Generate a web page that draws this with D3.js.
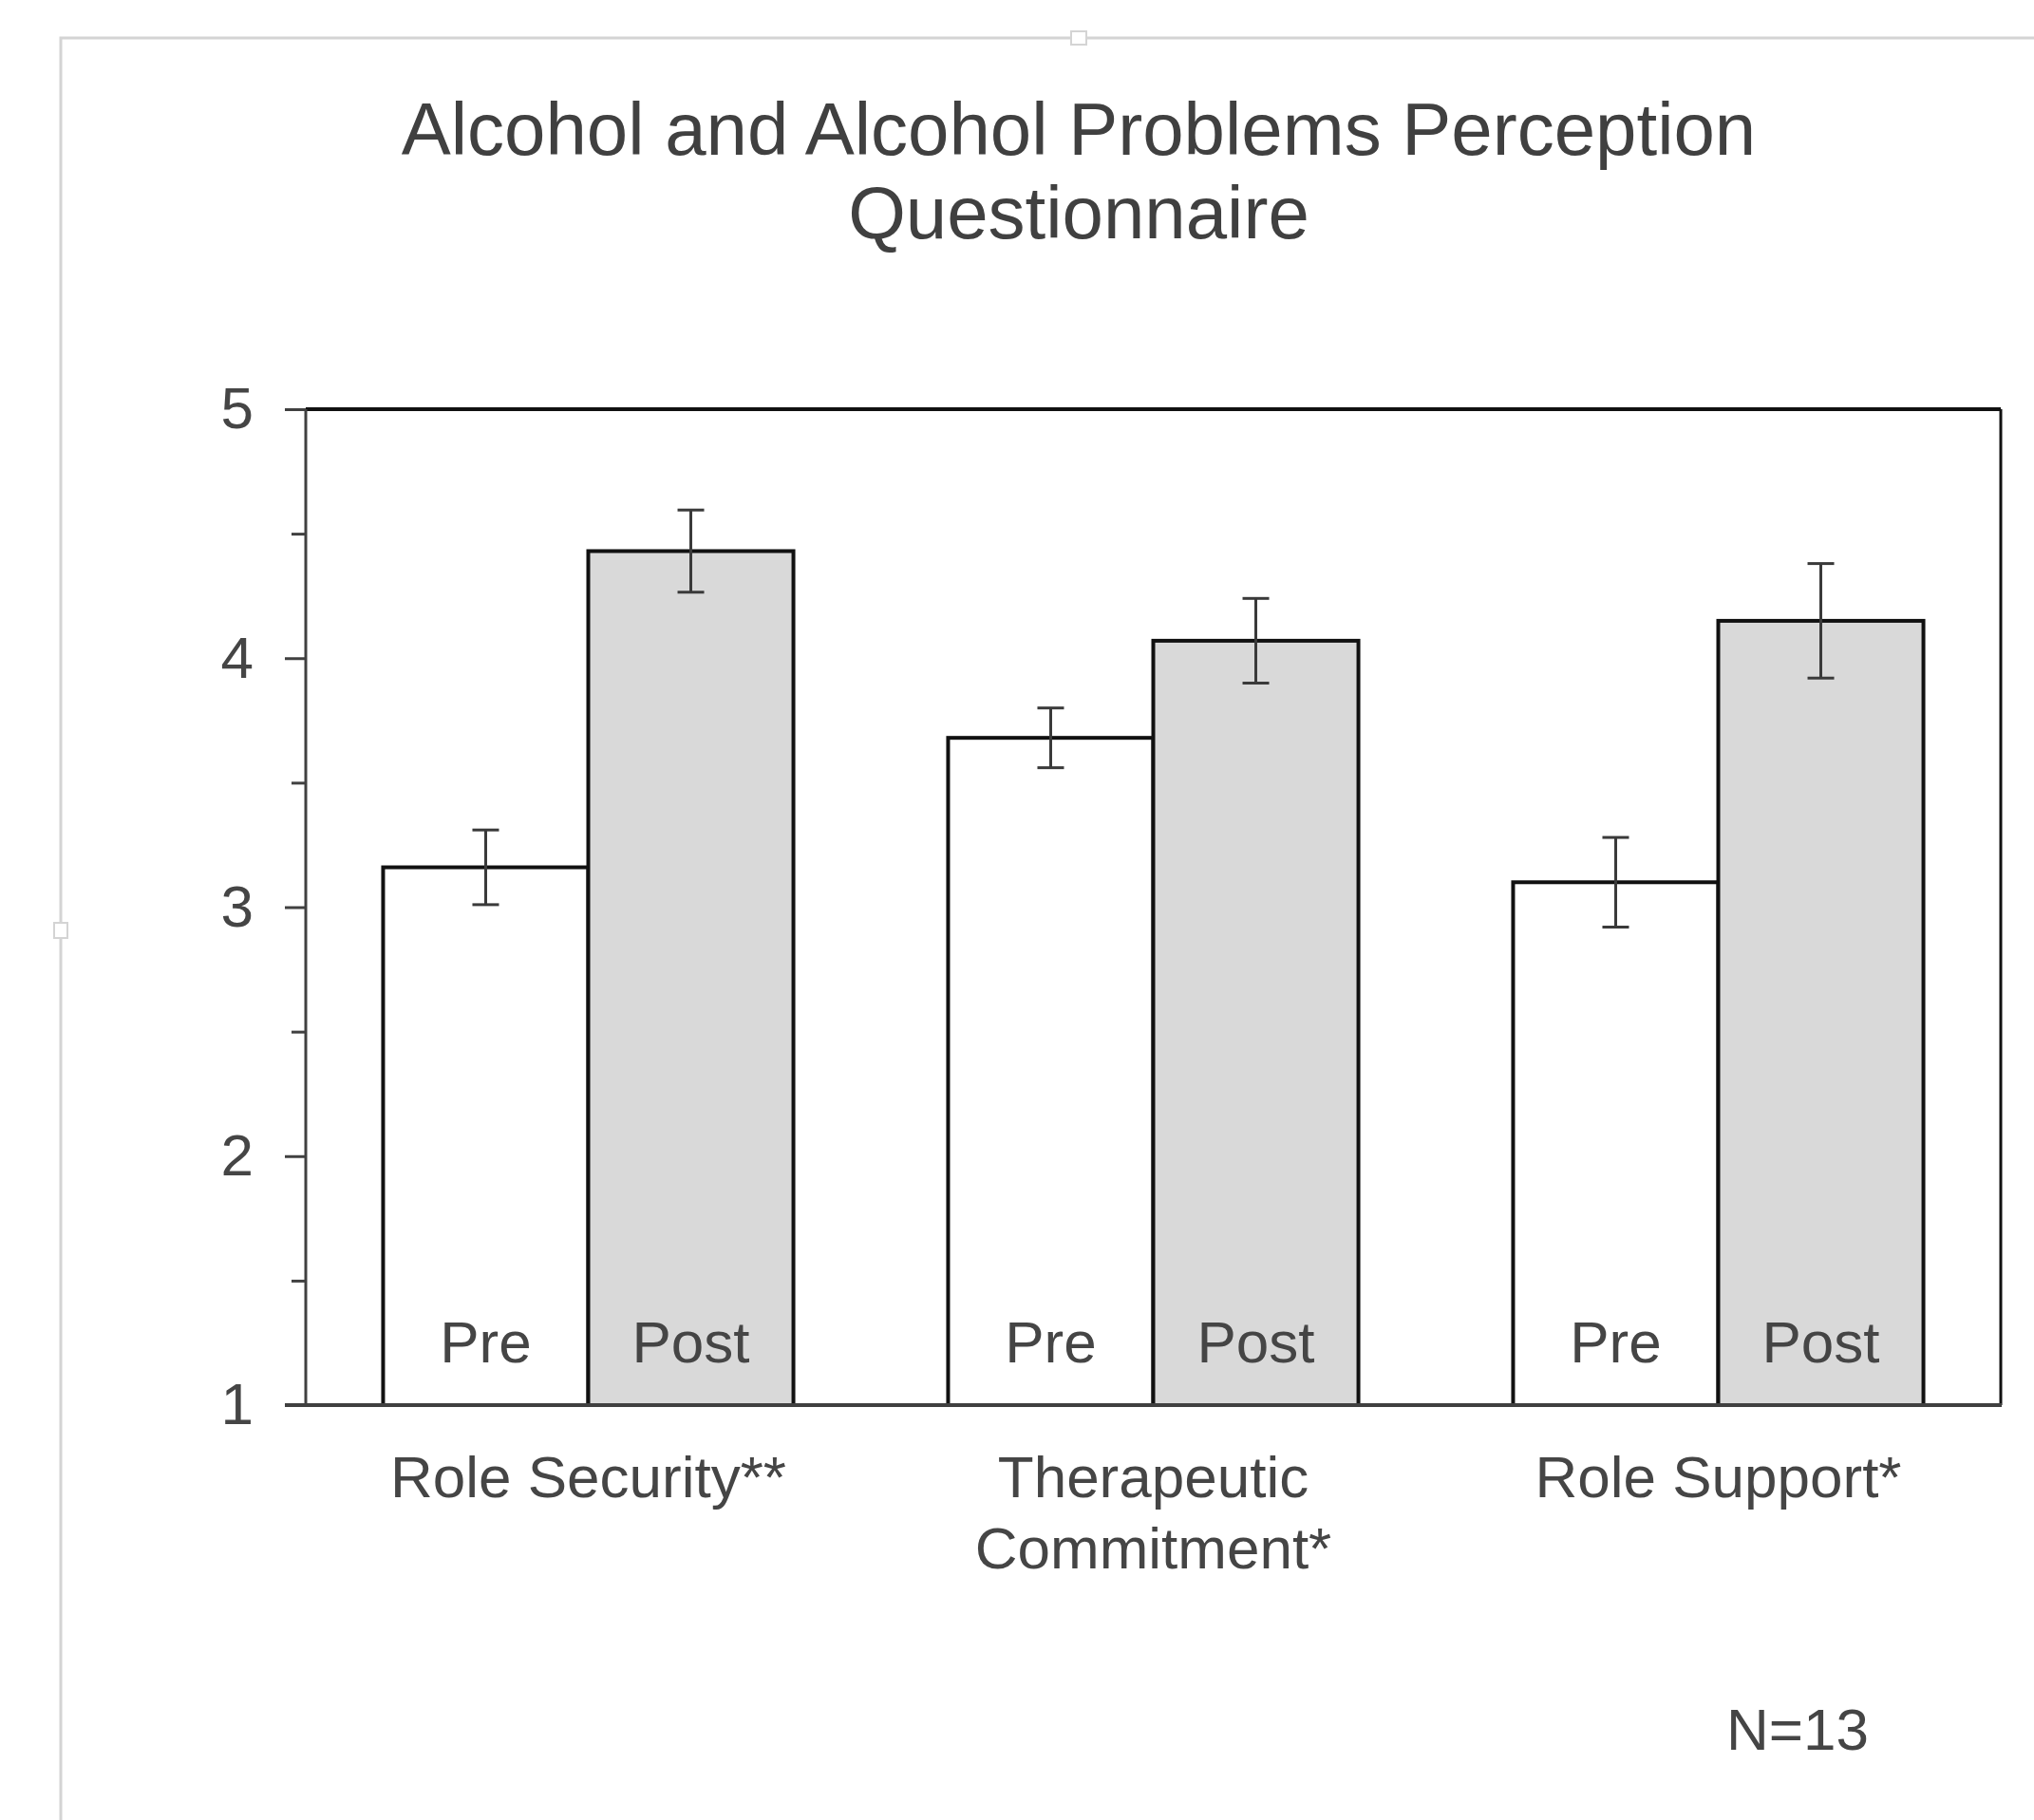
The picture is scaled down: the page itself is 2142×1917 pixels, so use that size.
<!DOCTYPE html>
<html>
<head>
<meta charset="utf-8">
<script src="https://cdn.jsdelivr.net/npm/d3@7"></script>
<style>
  html, body { margin: 0; padding: 0; background: #ffffff; }
  svg { display: block; }
  text { font-family: "Liberation Sans", Arial, sans-serif; }
</style>
</head>
<body>
<script>
// ---- data ----
const categories = ["Role Security**", "Therapeutic Commitment*", "Role Support*"];
const categoryLabelLines = [["Role Security**"], ["Therapeutic", "Commitment*"], ["Role Support*"]];
const phases = ["Pre", "Post"];
const preValues = [3.16, 3.68, 3.10];
const postValues = [4.43, 4.07, 4.15];
const preErrors = [0.15, 0.12, 0.18];
const postErrors = [0.165, 0.17, 0.23];
const yMajorTicks = [1, 2, 3, 4, 5];
const yMinorTicks = [1.5, 2.5, 3.5, 4.5];
const titleLines = ["Alcohol and Alcohol Problems Perception", "Questionnaire"];
const noteText = "N=13";

// ---- layout ----
const W = 2142, H = 1917;
const plot = { left: 322, right: 2107, top: 431, bottom: 1480 };
const textColor = "#454545";
const axisColor = "#404040";

const svg = d3.select("body").append("svg").attr("width", W).attr("height", H);
svg.append("rect").attr("width", W).attr("height", H).attr("fill", "#ffffff");

// chart area border (selected chart frame)
svg.append("rect").attr("x", 64).attr("y", 40).attr("width", W).attr("height", H)
  .attr("fill", "none").attr("stroke", "#d4d4d4").attr("stroke-width", 3);
// handles
svg.append("rect").attr("x", 1128).attr("y", 33).attr("width", 16).attr("height", 14)
  .attr("fill", "#ffffff").attr("stroke", "#d4d4d4").attr("stroke-width", 2);
svg.append("rect").attr("x", 57).attr("y", 972).attr("width", 14).attr("height", 16)
  .attr("fill", "#ffffff").attr("stroke", "#d4d4d4").attr("stroke-width", 2);

// scales
const x0 = d3.scaleBand().domain(categories).range([plot.left, plot.right]).padding(0);
const x1 = d3.scaleBand().domain(phases).range([0, x0.bandwidth()]).paddingInner(0).paddingOuter(0.377);
const y = d3.scaleLinear().domain([1, 5]).range([plot.bottom, plot.top]);

const rows = categories.map((c, i) => ({
  cat: c,
  bars: [
    { phase: "Pre", value: preValues[i], err: preErrors[i], fill: "#ffffff" },
    { phase: "Post", value: postValues[i], err: postErrors[i], fill: "#d9d9d9" }
  ]
}));

// title
const title = svg.append("text").attr("text-anchor", "middle").attr("fill", "#404040")
  .attr("font-size", 78);
titleLines.forEach((t, i) => {
  title.append("tspan").attr("x", 1136).attr("y", 163 + i * 88).text(t);
});

// bars
const groups = svg.append("g").selectAll("g").data(rows).join("g")
  .attr("transform", d => `translate(${x0(d.cat)},0)`);

groups.selectAll("rect").data(d => d.bars).join("rect")
  .attr("x", d => x1(d.phase))
  .attr("y", d => y(d.value))
  .attr("width", x1.bandwidth())
  .attr("height", d => y(1) - y(d.value))
  .attr("fill", d => d.fill)
  .attr("stroke", "#111111")
  .attr("stroke-width", 4);

// bar labels
groups.selectAll("text.phase").data(d => d.bars).join("text")
  .attr("class", "phase")
  .attr("x", d => x1(d.phase) + x1.bandwidth() / 2)
  .attr("y", 1435)
  .attr("text-anchor", "middle")
  .attr("font-size", 62)
  .attr("fill", textColor)
  .text(d => d.phase);

// error bars
const capHalf = 14;
const eb = groups.selectAll("g.err").data(d => d.bars).join("g").attr("class", "err")
  .attr("stroke", "#3a3a3a").attr("stroke-width", 3);
eb.append("line")
  .attr("x1", d => x1(d.phase) + x1.bandwidth() / 2)
  .attr("x2", d => x1(d.phase) + x1.bandwidth() / 2)
  .attr("y1", d => y(d.value + d.err))
  .attr("y2", d => y(d.value - d.err));
eb.append("line")
  .attr("x1", d => x1(d.phase) + x1.bandwidth() / 2 - capHalf)
  .attr("x2", d => x1(d.phase) + x1.bandwidth() / 2 + capHalf)
  .attr("y1", d => y(d.value + d.err))
  .attr("y2", d => y(d.value + d.err));
eb.append("line")
  .attr("x1", d => x1(d.phase) + x1.bandwidth() / 2 - capHalf)
  .attr("x2", d => x1(d.phase) + x1.bandwidth() / 2 + capHalf)
  .attr("y1", d => y(d.value - d.err))
  .attr("y2", d => y(d.value - d.err));

// frame: top and right in black
svg.append("line").attr("x1", plot.left).attr("x2", plot.right)
  .attr("y1", plot.top).attr("y2", plot.top).attr("stroke", "#111111").attr("stroke-width", 4);
svg.append("line").attr("x1", plot.right).attr("x2", plot.right)
  .attr("y1", plot.top).attr("y2", plot.bottom).attr("stroke", "#111111").attr("stroke-width", 3);

// y axis
const yAxis = d3.axisLeft(y).tickValues(yMajorTicks).tickFormat(d3.format("d"))
  .tickSize(22).tickPadding(33);
const yg = svg.append("g").attr("transform", `translate(${plot.left},0)`).call(yAxis);
yg.select(".domain").remove();
yg.selectAll(".tick line").attr("stroke", axisColor).attr("stroke-width", 3);
yg.selectAll(".tick text").attr("font-size", 62).attr("fill", textColor)
  .attr("font-family", "Liberation Sans, Arial, sans-serif");
const yMinor = d3.axisLeft(y).tickValues(yMinorTicks).tickFormat("").tickSize(15);
const ym = svg.append("g").attr("transform", `translate(${plot.left},0)`).call(yMinor);
ym.select(".domain").remove();
ym.selectAll(".tick line").attr("stroke", axisColor).attr("stroke-width", 3);
svg.append("line").attr("x1", plot.left).attr("x2", plot.left)
  .attr("y1", plot.top).attr("y2", plot.bottom).attr("stroke", axisColor).attr("stroke-width", 3);

// x axis
svg.append("line").attr("x1", plot.left - 22).attr("x2", plot.right + 1)
  .attr("y1", plot.bottom).attr("y2", plot.bottom).attr("stroke", axisColor).attr("stroke-width", 4);

// category labels
const catLabels = svg.append("g").selectAll("text").data(categories).join("text")
  .attr("text-anchor", "middle").attr("font-size", 62).attr("fill", textColor);
catLabels.each(function (d, i) {
  const t = d3.select(this);
  categoryLabelLines[i].forEach((line, j) => {
    t.append("tspan").attr("x", x0(d) + x0.bandwidth() / 2).attr("y", 1577 + j * 75).text(line);
  });
});

// note
svg.append("text").attr("x", 1893).attr("y", 1843).attr("text-anchor", "middle")
  .attr("font-size", 62).attr("fill", textColor).text(noteText);
</script>
</body>
</html>
